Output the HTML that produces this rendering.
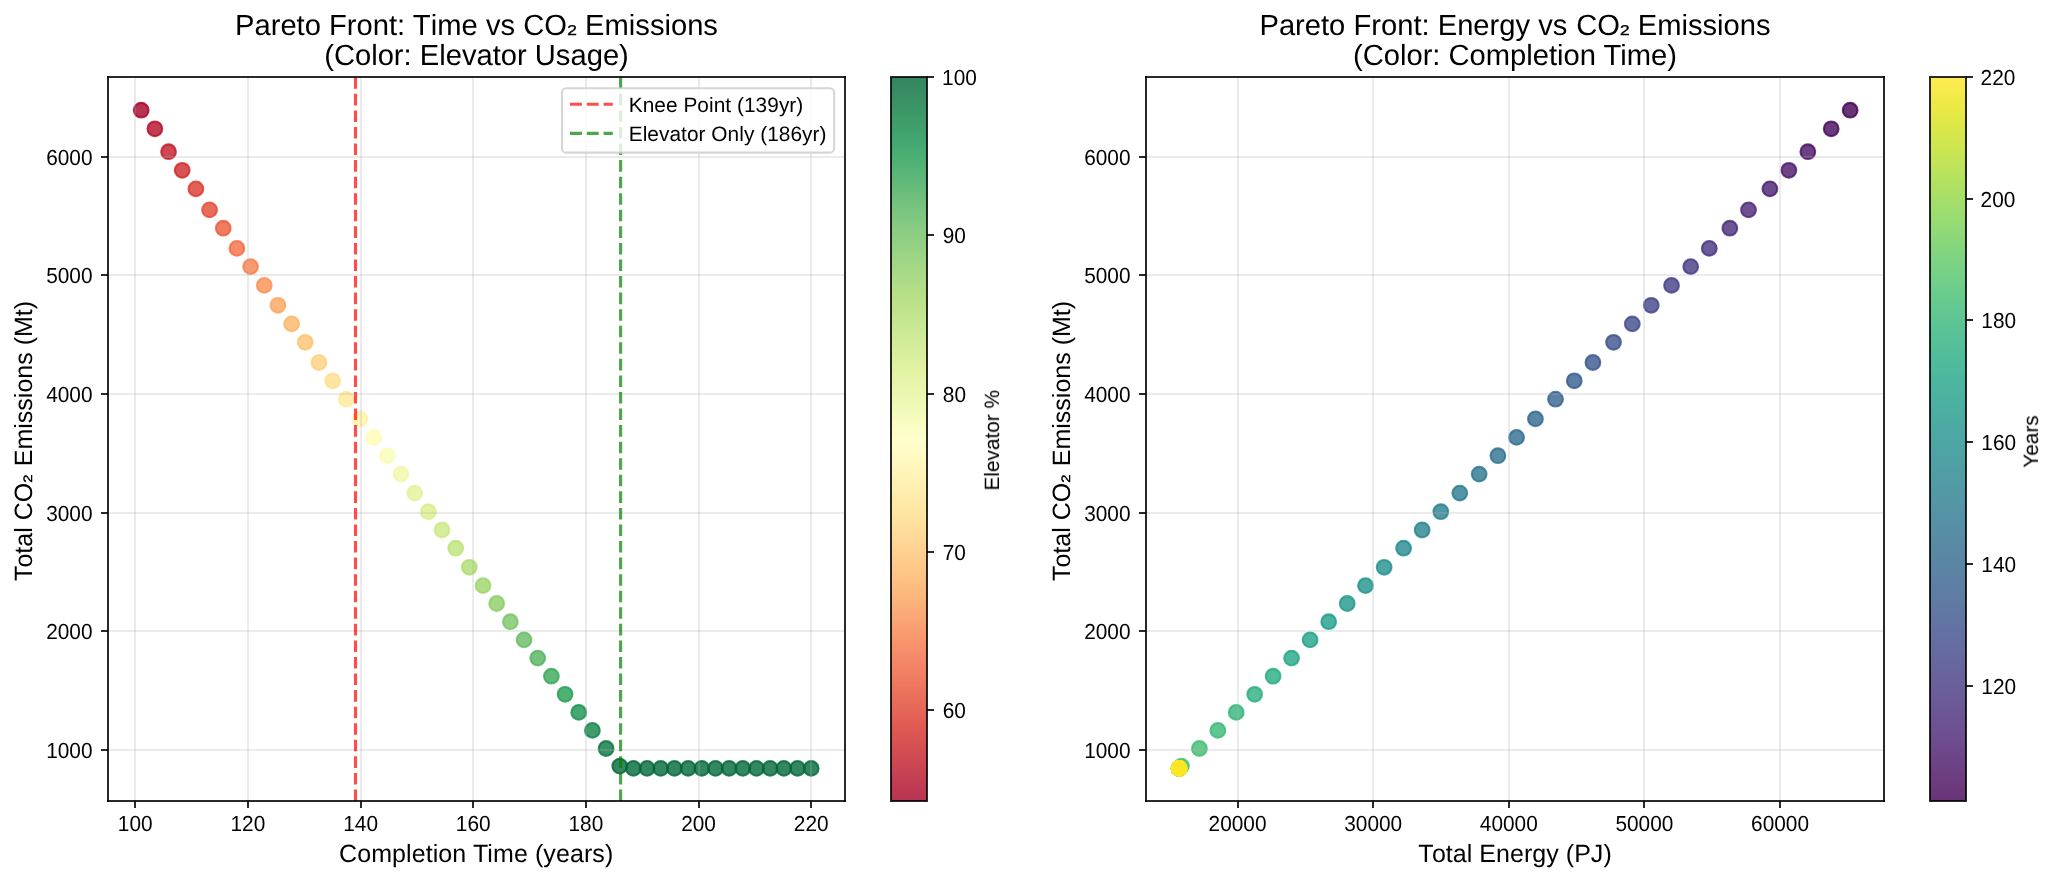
<!DOCTYPE html>
<html><head><meta charset="utf-8"><title>Pareto Front</title>
<style>html,body{margin:0;padding:0;background:#fff}body{width:2057px;height:881px;overflow:hidden}svg text{font-family:"Liberation Sans",sans-serif;text-rendering:geometricPrecision}</style></head>
<body>
<svg width="2057" height="881" viewBox="0 0 2057 881" style="display:block">
<rect width="2057" height="881" fill="#fff"/>
<defs><filter id="tf" x="0" y="0" width="2057" height="881" filterUnits="userSpaceOnUse" color-interpolation-filters="sRGB"><feOffset dx="0" dy="0"/></filter></defs>
<g fill-opacity=".8" stroke-opacity=".8" stroke-width="2.083">
<circle cx="141.20" cy="110.20" r="7.365" fill="#a50026" stroke="#a50026"/>
<circle cx="154.87" cy="128.80" r="7.365" fill="#b30d26" stroke="#b30d26"/>
<circle cx="168.55" cy="151.70" r="7.365" fill="#c01a27" stroke="#c01a27"/>
<circle cx="182.22" cy="170.30" r="7.365" fill="#ce2827" stroke="#ce2827"/>
<circle cx="195.89" cy="188.90" r="7.365" fill="#db382b" stroke="#db382b"/>
<circle cx="209.56" cy="209.90" r="7.365" fill="#e34933" stroke="#e34933"/>
<circle cx="223.24" cy="228.20" r="7.365" fill="#eb5a3a" stroke="#eb5a3a"/>
<circle cx="236.91" cy="248.40" r="7.365" fill="#f46d43" stroke="#f46d43"/>
<circle cx="250.58" cy="266.60" r="7.365" fill="#f67f4b" stroke="#f67f4b"/>
<circle cx="264.26" cy="285.40" r="7.365" fill="#f99153" stroke="#f99153"/>
<circle cx="277.93" cy="305.30" r="7.365" fill="#fca55d" stroke="#fca55d"/>
<circle cx="291.60" cy="323.90" r="7.365" fill="#fdb567" stroke="#fdb567"/>
<circle cx="305.28" cy="342.30" r="7.365" fill="#fdc372" stroke="#fdc372"/>
<circle cx="318.95" cy="362.50" r="7.365" fill="#fed07e" stroke="#fed07e"/>
<circle cx="332.62" cy="380.80" r="7.365" fill="#fee08b" stroke="#fee08b"/>
<circle cx="346.29" cy="399.20" r="7.365" fill="#fee999" stroke="#fee999"/>
<circle cx="359.97" cy="418.90" r="7.365" fill="#fff1a8" stroke="#fff1a8"/>
<circle cx="373.64" cy="437.40" r="7.365" fill="#fffbb8" stroke="#fffbb8"/>
<circle cx="387.31" cy="455.70" r="7.365" fill="#fafdb8" stroke="#fafdb8"/>
<circle cx="400.99" cy="474.10" r="7.365" fill="#eff8aa" stroke="#eff8aa"/>
<circle cx="414.66" cy="493.10" r="7.365" fill="#e3f399" stroke="#e3f399"/>
<circle cx="428.33" cy="511.70" r="7.365" fill="#d9ef8b" stroke="#d9ef8b"/>
<circle cx="442.01" cy="530.00" r="7.365" fill="#cbe982" stroke="#cbe982"/>
<circle cx="455.68" cy="548.20" r="7.365" fill="#bde379" stroke="#bde379"/>
<circle cx="469.35" cy="567.30" r="7.365" fill="#addc6f" stroke="#addc6f"/>
<circle cx="483.02" cy="585.60" r="7.365" fill="#9dd569" stroke="#9dd569"/>
<circle cx="496.70" cy="603.50" r="7.365" fill="#8ccd67" stroke="#8ccd67"/>
<circle cx="510.37" cy="621.70" r="7.365" fill="#78c565" stroke="#78c565"/>
<circle cx="524.04" cy="639.90" r="7.365" fill="#66bd63" stroke="#66bd63"/>
<circle cx="537.72" cy="658.10" r="7.365" fill="#51b35e" stroke="#51b35e"/>
<circle cx="551.39" cy="676.20" r="7.365" fill="#39a758" stroke="#39a758"/>
<circle cx="565.06" cy="694.30" r="7.365" fill="#249d53" stroke="#249d53"/>
<circle cx="578.74" cy="712.40" r="7.365" fill="#16914d" stroke="#16914d"/>
<circle cx="592.41" cy="730.40" r="7.365" fill="#0f8446" stroke="#0f8446"/>
<circle cx="606.08" cy="748.50" r="7.365" fill="#07753e" stroke="#07753e"/>
<circle cx="619.75" cy="766.10" r="7.365" fill="#006837" stroke="#006837"/>
<circle cx="633.43" cy="768.40" r="7.365" fill="#006837" stroke="#006837"/>
<circle cx="647.10" cy="768.40" r="7.365" fill="#006837" stroke="#006837"/>
<circle cx="660.77" cy="768.40" r="7.365" fill="#006837" stroke="#006837"/>
<circle cx="674.45" cy="768.40" r="7.365" fill="#006837" stroke="#006837"/>
<circle cx="688.12" cy="768.40" r="7.365" fill="#006837" stroke="#006837"/>
<circle cx="701.79" cy="768.40" r="7.365" fill="#006837" stroke="#006837"/>
<circle cx="715.47" cy="768.40" r="7.365" fill="#006837" stroke="#006837"/>
<circle cx="729.14" cy="768.40" r="7.365" fill="#006837" stroke="#006837"/>
<circle cx="742.81" cy="768.40" r="7.365" fill="#006837" stroke="#006837"/>
<circle cx="756.48" cy="768.40" r="7.365" fill="#006837" stroke="#006837"/>
<circle cx="770.16" cy="768.40" r="7.365" fill="#006837" stroke="#006837"/>
<circle cx="783.83" cy="768.40" r="7.365" fill="#006837" stroke="#006837"/>
<circle cx="797.50" cy="768.40" r="7.365" fill="#006837" stroke="#006837"/>
<circle cx="811.18" cy="768.40" r="7.365" fill="#006837" stroke="#006837"/>
</g>
<rect x="134" y="77" width="2" height="724" fill="#b0b0b0" fill-opacity=".25"/>
<rect x="247" y="77" width="2" height="724" fill="#b0b0b0" fill-opacity=".25"/>
<rect x="360" y="77" width="2" height="724" fill="#b0b0b0" fill-opacity=".25"/>
<rect x="472" y="77" width="2" height="724" fill="#b0b0b0" fill-opacity=".25"/>
<rect x="585" y="77" width="2" height="724" fill="#b0b0b0" fill-opacity=".25"/>
<rect x="698" y="77" width="2" height="724" fill="#b0b0b0" fill-opacity=".25"/>
<rect x="810" y="77" width="2" height="724" fill="#b0b0b0" fill-opacity=".25"/>
<rect x="108" y="749" width="737" height="2" fill="#b0b0b0" fill-opacity=".25"/>
<rect x="108" y="630" width="737" height="2" fill="#b0b0b0" fill-opacity=".25"/>
<rect x="108" y="512" width="737" height="2" fill="#b0b0b0" fill-opacity=".25"/>
<rect x="108" y="393" width="737" height="2" fill="#b0b0b0" fill-opacity=".25"/>
<rect x="108" y="274" width="737" height="2" fill="#b0b0b0" fill-opacity=".25"/>
<rect x="108" y="156" width="737" height="2" fill="#b0b0b0" fill-opacity=".25"/>
<g stroke-width="3.125" stroke-opacity=".7" stroke-dasharray="11.5625 5" fill="none">
<line x1="355.5" y1="801" x2="355.5" y2="77" stroke="#ff0000"/>
<line x1="620.6" y1="801" x2="620.6" y2="77" stroke="#008000"/>
</g>
<rect x="107" y="76" width="2" height="726" fill="#000" fill-opacity=".835"/>
<rect x="844" y="76" width="2" height="726" fill="#000" fill-opacity=".835"/>
<rect x="107" y="76" width="739" height="2" fill="#000" fill-opacity=".835"/>
<rect x="107" y="800" width="739" height="2" fill="#000" fill-opacity=".835"/>
<rect x="134" y="801" width="2" height="7" fill="#000" fill-opacity=".835"/>
<rect x="247" y="801" width="2" height="7" fill="#000" fill-opacity=".835"/>
<rect x="360" y="801" width="2" height="7" fill="#000" fill-opacity=".835"/>
<rect x="472" y="801" width="2" height="7" fill="#000" fill-opacity=".835"/>
<rect x="585" y="801" width="2" height="7" fill="#000" fill-opacity=".835"/>
<rect x="698" y="801" width="2" height="7" fill="#000" fill-opacity=".835"/>
<rect x="810" y="801" width="2" height="7" fill="#000" fill-opacity=".835"/>
<rect x="101" y="749" width="7" height="2" fill="#000" fill-opacity=".835"/>
<rect x="101" y="630" width="7" height="2" fill="#000" fill-opacity=".835"/>
<rect x="101" y="512" width="7" height="2" fill="#000" fill-opacity=".835"/>
<rect x="101" y="393" width="7" height="2" fill="#000" fill-opacity=".835"/>
<rect x="101" y="274" width="7" height="2" fill="#000" fill-opacity=".835"/>
<rect x="101" y="156" width="7" height="2" fill="#000" fill-opacity=".835"/>
<g font-size="20.83px" fill="#000" filter="url(#tf)">
<text transform="translate(135.2,830.9) scale(1,1.045)" text-anchor="middle">100</text>
<text transform="translate(247.9,830.9) scale(1,1.045)" text-anchor="middle">120</text>
<text transform="translate(360.6,830.9) scale(1,1.045)" text-anchor="middle">140</text>
<text transform="translate(473.2,830.9) scale(1,1.045)" text-anchor="middle">160</text>
<text transform="translate(585.9,830.9) scale(1,1.045)" text-anchor="middle">180</text>
<text transform="translate(698.5,830.9) scale(1,1.045)" text-anchor="middle">200</text>
<text transform="translate(811.2,830.9) scale(1,1.045)" text-anchor="middle">220</text>
<text transform="translate(92.55,757.9) scale(1,1.045)" text-anchor="end">1000</text>
<text transform="translate(92.55,638.9) scale(1,1.045)" text-anchor="end">2000</text>
<text transform="translate(92.55,520.9) scale(1,1.045)" text-anchor="end">3000</text>
<text transform="translate(92.55,401.9) scale(1,1.045)" text-anchor="end">4000</text>
<text transform="translate(92.55,282.9) scale(1,1.045)" text-anchor="end">5000</text>
<text transform="translate(92.55,164.9) scale(1,1.045)" text-anchor="end">6000</text>
</g>
<g fill-opacity=".8" stroke-opacity=".8" stroke-width="2.083">
<circle cx="1850.15" cy="110.20" r="7.365" fill="#440154" stroke="#440154"/>
<circle cx="1831.19" cy="128.80" r="7.365" fill="#46085c" stroke="#46085c"/>
<circle cx="1807.84" cy="151.70" r="7.365" fill="#471063" stroke="#471063"/>
<circle cx="1788.88" cy="170.30" r="7.365" fill="#481769" stroke="#481769"/>
<circle cx="1769.92" cy="188.90" r="7.365" fill="#481d6f" stroke="#481d6f"/>
<circle cx="1748.51" cy="209.90" r="7.365" fill="#482576" stroke="#482576"/>
<circle cx="1729.85" cy="228.20" r="7.365" fill="#472c7a" stroke="#472c7a"/>
<circle cx="1709.26" cy="248.40" r="7.365" fill="#46327e" stroke="#46327e"/>
<circle cx="1690.70" cy="266.60" r="7.365" fill="#453882" stroke="#453882"/>
<circle cx="1671.53" cy="285.40" r="7.365" fill="#423f85" stroke="#423f85"/>
<circle cx="1651.25" cy="305.30" r="7.365" fill="#404588" stroke="#404588"/>
<circle cx="1632.28" cy="323.90" r="7.365" fill="#3e4a89" stroke="#3e4a89"/>
<circle cx="1613.53" cy="342.30" r="7.365" fill="#3c508b" stroke="#3c508b"/>
<circle cx="1592.93" cy="362.50" r="7.365" fill="#39558c" stroke="#39558c"/>
<circle cx="1574.27" cy="380.80" r="7.365" fill="#365c8d" stroke="#365c8d"/>
<circle cx="1555.52" cy="399.20" r="7.365" fill="#34618d" stroke="#34618d"/>
<circle cx="1535.43" cy="418.90" r="7.365" fill="#31668e" stroke="#31668e"/>
<circle cx="1516.57" cy="437.40" r="7.365" fill="#2f6b8e" stroke="#2f6b8e"/>
<circle cx="1497.91" cy="455.70" r="7.365" fill="#2d718e" stroke="#2d718e"/>
<circle cx="1479.16" cy="474.10" r="7.365" fill="#2b758e" stroke="#2b758e"/>
<circle cx="1459.78" cy="493.10" r="7.365" fill="#297a8e" stroke="#297a8e"/>
<circle cx="1440.82" cy="511.70" r="7.365" fill="#277f8e" stroke="#277f8e"/>
<circle cx="1422.16" cy="530.00" r="7.365" fill="#25838e" stroke="#25838e"/>
<circle cx="1403.61" cy="548.20" r="7.365" fill="#23898e" stroke="#23898e"/>
<circle cx="1384.14" cy="567.30" r="7.365" fill="#218e8d" stroke="#218e8d"/>
<circle cx="1365.48" cy="585.60" r="7.365" fill="#20928c" stroke="#20928c"/>
<circle cx="1347.23" cy="603.50" r="7.365" fill="#1f978b" stroke="#1f978b"/>
<circle cx="1328.68" cy="621.70" r="7.365" fill="#1e9d89" stroke="#1e9d89"/>
<circle cx="1310.12" cy="639.90" r="7.365" fill="#1fa187" stroke="#1fa187"/>
<circle cx="1291.57" cy="658.10" r="7.365" fill="#21a685" stroke="#21a685"/>
<circle cx="1273.11" cy="676.20" r="7.365" fill="#25ab82" stroke="#25ab82"/>
<circle cx="1254.66" cy="694.30" r="7.365" fill="#29af7f" stroke="#29af7f"/>
<circle cx="1236.21" cy="712.40" r="7.365" fill="#31b57b" stroke="#31b57b"/>
<circle cx="1217.86" cy="730.40" r="7.365" fill="#38b977" stroke="#38b977"/>
<circle cx="1199.40" cy="748.50" r="7.365" fill="#40bd72" stroke="#40bd72"/>
<circle cx="1181.46" cy="766.10" r="7.365" fill="#4ac16d" stroke="#4ac16d"/>
<circle cx="1179.12" cy="768.40" r="7.365" fill="#56c667" stroke="#56c667"/>
<circle cx="1179.12" cy="768.40" r="7.365" fill="#60ca60" stroke="#60ca60"/>
<circle cx="1179.12" cy="768.40" r="7.365" fill="#6ccd5a" stroke="#6ccd5a"/>
<circle cx="1179.12" cy="768.40" r="7.365" fill="#77d153" stroke="#77d153"/>
<circle cx="1179.12" cy="768.40" r="7.365" fill="#84d44b" stroke="#84d44b"/>
<circle cx="1179.12" cy="768.40" r="7.365" fill="#93d741" stroke="#93d741"/>
<circle cx="1179.12" cy="768.40" r="7.365" fill="#a0da39" stroke="#a0da39"/>
<circle cx="1179.12" cy="768.40" r="7.365" fill="#addc30" stroke="#addc30"/>
<circle cx="1179.12" cy="768.40" r="7.365" fill="#bade28" stroke="#bade28"/>
<circle cx="1179.12" cy="768.40" r="7.365" fill="#cae11f" stroke="#cae11f"/>
<circle cx="1179.12" cy="768.40" r="7.365" fill="#d8e219" stroke="#d8e219"/>
<circle cx="1179.12" cy="768.40" r="7.365" fill="#e5e419" stroke="#e5e419"/>
<circle cx="1179.12" cy="768.40" r="7.365" fill="#f1e51d" stroke="#f1e51d"/>
<circle cx="1179.12" cy="768.40" r="7.365" fill="#fde725" stroke="#fde725"/>
</g>
<rect x="1237" y="77" width="2" height="724" fill="#b0b0b0" fill-opacity=".25"/>
<rect x="1372" y="77" width="2" height="724" fill="#b0b0b0" fill-opacity=".25"/>
<rect x="1508" y="77" width="2" height="724" fill="#b0b0b0" fill-opacity=".25"/>
<rect x="1643" y="77" width="2" height="724" fill="#b0b0b0" fill-opacity=".25"/>
<rect x="1779" y="77" width="2" height="724" fill="#b0b0b0" fill-opacity=".25"/>
<rect x="1146" y="749" width="738" height="2" fill="#b0b0b0" fill-opacity=".25"/>
<rect x="1146" y="630" width="738" height="2" fill="#b0b0b0" fill-opacity=".25"/>
<rect x="1146" y="512" width="738" height="2" fill="#b0b0b0" fill-opacity=".25"/>
<rect x="1146" y="393" width="738" height="2" fill="#b0b0b0" fill-opacity=".25"/>
<rect x="1146" y="274" width="738" height="2" fill="#b0b0b0" fill-opacity=".25"/>
<rect x="1146" y="156" width="738" height="2" fill="#b0b0b0" fill-opacity=".25"/>
<rect x="1145" y="76" width="2" height="726" fill="#000" fill-opacity=".835"/>
<rect x="1883" y="76" width="2" height="726" fill="#000" fill-opacity=".835"/>
<rect x="1145" y="76" width="740" height="2" fill="#000" fill-opacity=".835"/>
<rect x="1145" y="800" width="740" height="2" fill="#000" fill-opacity=".835"/>
<rect x="1237" y="801" width="2" height="7" fill="#000" fill-opacity=".835"/>
<rect x="1372" y="801" width="2" height="7" fill="#000" fill-opacity=".835"/>
<rect x="1508" y="801" width="2" height="7" fill="#000" fill-opacity=".835"/>
<rect x="1643" y="801" width="2" height="7" fill="#000" fill-opacity=".835"/>
<rect x="1779" y="801" width="2" height="7" fill="#000" fill-opacity=".835"/>
<rect x="1139" y="749" width="7" height="2" fill="#000" fill-opacity=".835"/>
<rect x="1139" y="630" width="7" height="2" fill="#000" fill-opacity=".835"/>
<rect x="1139" y="512" width="7" height="2" fill="#000" fill-opacity=".835"/>
<rect x="1139" y="393" width="7" height="2" fill="#000" fill-opacity=".835"/>
<rect x="1139" y="274" width="7" height="2" fill="#000" fill-opacity=".835"/>
<rect x="1139" y="156" width="7" height="2" fill="#000" fill-opacity=".835"/>
<g font-size="20.83px" fill="#000" filter="url(#tf)">
<text transform="translate(1237.5,830.9) scale(1,1.045)" text-anchor="middle">20000</text>
<text transform="translate(1373.2,830.9) scale(1,1.045)" text-anchor="middle">30000</text>
<text transform="translate(1508.8,830.9) scale(1,1.045)" text-anchor="middle">40000</text>
<text transform="translate(1644.4,830.9) scale(1,1.045)" text-anchor="middle">50000</text>
<text transform="translate(1780.0,830.9) scale(1,1.045)" text-anchor="middle">60000</text>
<text transform="translate(1130.55,757.9) scale(1,1.045)" text-anchor="end">1000</text>
<text transform="translate(1130.55,638.9) scale(1,1.045)" text-anchor="end">2000</text>
<text transform="translate(1130.55,520.9) scale(1,1.045)" text-anchor="end">3000</text>
<text transform="translate(1130.55,401.9) scale(1,1.045)" text-anchor="end">4000</text>
<text transform="translate(1130.55,282.9) scale(1,1.045)" text-anchor="end">5000</text>
<text transform="translate(1130.55,164.9) scale(1,1.045)" text-anchor="end">6000</text>
</g>
<rect x="562.0" y="88.2" width="272.10" height="64.40" rx="4.17" fill="#fff" fill-opacity=".8" stroke="#cccccc" stroke-opacity=".8" stroke-width="2.083"/>
<g stroke-width="3.125" stroke-opacity=".7" stroke-dasharray="11.9 4.9" fill="none">
<line x1="570.0" y1="104.3" x2="612.8" y2="104.3" stroke="#ff0000"/>
<line x1="570.0" y1="133.4" x2="612.8" y2="133.4" stroke="#008000"/>
</g>
<g font-size="20.83px" fill="#000" filter="url(#tf)">
<text x="628.7" y="111.7" letter-spacing=".055">Knee Point (139yr)</text>
<text x="628.7" y="140.7" letter-spacing=".05">Elevator Only (186yr)</text>
</g>
<g font-size="29.17px" fill="#000" text-anchor="middle" filter="url(#tf)">
<text x="476.5" y="35">Pareto Front: T<tspan dx="1.3">i</tspan>me vs CO<tspan dx="0.3" font-size="14.20px" stroke="#000" stroke-width=".4" textLength="9.59" lengthAdjust="spacingAndGlyphs">2</tspan><tspan dx="0.2"> </tspan>Emissions</text>
<text x="476.5" y="64.8">(Color: Elevator Usage)</text>
<text x="1515" y="35">Pareto Front: Energy vs<tspan dx="0.8"> </tspan>CO<tspan font-size="14.20px" stroke="#000" stroke-width=".4" textLength="9.59" lengthAdjust="spacingAndGlyphs">2</tspan> Emissions</text>
<text x="1515" y="64.8">(Color: Completion Time)</text>
</g>
<g font-size="25px" fill="#000" text-anchor="middle" filter="url(#tf)">
<text x="476.2" y="862.2" letter-spacing=".09">Completion Time (years)</text>
<text x="1515" y="862.2" letter-spacing=".04">T<tspan dx="1.1">o</tspan>tal Energy (PJ)</text>
<text transform="translate(32.0,441) rotate(-90)">T<tspan dx="1.0">o</tspan>tal CO<tspan font-size="12.17px" stroke="#000" stroke-width=".4" textLength="8.22" lengthAdjust="spacingAndGlyphs">2</tspan><tspan dx="1.4"> </tspan>Emissions (Mt)</text>
<text transform="translate(1070.0,441) rotate(-90)">T<tspan dx="1.0">o</tspan>tal CO<tspan font-size="12.17px" stroke="#000" stroke-width=".4" textLength="8.22" lengthAdjust="spacingAndGlyphs">2</tspan><tspan dx="1.4"> </tspan>Emissions (Mt)</text>
</g>
<defs><linearGradient id="g1" x1="0" y1="0" x2="0" y2="1"><stop offset="0.0000" stop-color="#33865f"/><stop offset="0.0156" stop-color="#358b61"/><stop offset="0.0312" stop-color="#399164"/><stop offset="0.0469" stop-color="#3c9768"/><stop offset="0.0625" stop-color="#3f9d6b"/><stop offset="0.0781" stop-color="#42a36e"/><stop offset="0.0938" stop-color="#46a971"/><stop offset="0.1094" stop-color="#4bae74"/><stop offset="0.1250" stop-color="#55b376"/><stop offset="0.1406" stop-color="#5eb879"/><stop offset="0.1562" stop-color="#68bc7b"/><stop offset="0.1719" stop-color="#72c17d"/><stop offset="0.1875" stop-color="#7bc680"/><stop offset="0.2031" stop-color="#85ca82"/><stop offset="0.2188" stop-color="#8dce83"/><stop offset="0.2344" stop-color="#95d184"/><stop offset="0.2500" stop-color="#9dd585"/><stop offset="0.2656" stop-color="#a5d886"/><stop offset="0.2812" stop-color="#addc87"/><stop offset="0.2969" stop-color="#b5df87"/><stop offset="0.3125" stop-color="#bce28a"/><stop offset="0.3281" stop-color="#c2e58f"/><stop offset="0.3438" stop-color="#c9e893"/><stop offset="0.3594" stop-color="#cfeb97"/><stop offset="0.3750" stop-color="#d5ed9b"/><stop offset="0.3906" stop-color="#dcf09f"/><stop offset="0.4062" stop-color="#e2f3a4"/><stop offset="0.4219" stop-color="#e7f5aa"/><stop offset="0.4375" stop-color="#ebf7b1"/><stop offset="0.4531" stop-color="#f0f9b7"/><stop offset="0.4688" stop-color="#f5fbbe"/><stop offset="0.4844" stop-color="#fafdc4"/><stop offset="0.5000" stop-color="#feffcb"/><stop offset="0.5156" stop-color="#fffcc6"/><stop offset="0.5312" stop-color="#fff8c0"/><stop offset="0.5469" stop-color="#fff4b9"/><stop offset="0.5625" stop-color="#fff0b3"/><stop offset="0.5781" stop-color="#feecac"/><stop offset="0.5938" stop-color="#fee8a5"/><stop offset="0.6094" stop-color="#fee3a0"/><stop offset="0.6250" stop-color="#fedd9a"/><stop offset="0.6406" stop-color="#fed795"/><stop offset="0.6562" stop-color="#fed090"/><stop offset="0.6719" stop-color="#feca8a"/><stop offset="0.6875" stop-color="#fec485"/><stop offset="0.7031" stop-color="#fdbd80"/><stop offset="0.7188" stop-color="#fcb57c"/><stop offset="0.7344" stop-color="#fbad79"/><stop offset="0.7500" stop-color="#faa575"/><stop offset="0.7656" stop-color="#f99d71"/><stop offset="0.7812" stop-color="#f8946d"/><stop offset="0.7969" stop-color="#f68c6a"/><stop offset="0.8125" stop-color="#f38466"/><stop offset="0.8281" stop-color="#f07d62"/><stop offset="0.8438" stop-color="#ec755f"/><stop offset="0.8594" stop-color="#e96d5b"/><stop offset="0.8750" stop-color="#e56658"/><stop offset="0.8906" stop-color="#e15e54"/><stop offset="0.9062" stop-color="#dd5752"/><stop offset="0.9219" stop-color="#d65152"/><stop offset="0.9375" stop-color="#d04b52"/><stop offset="0.9531" stop-color="#ca4552"/><stop offset="0.9688" stop-color="#c43f52"/><stop offset="0.9844" stop-color="#bd3952"/><stop offset="1.0000" stop-color="#b73351"/></linearGradient></defs>
<rect x="891" y="77" width="36" height="724" fill="url(#g1)"/>
<rect x="890" y="78" width="2" height="722" fill="#000" fill-opacity=".835"/>
<rect x="926" y="78" width="2" height="722" fill="#000" fill-opacity=".835"/>
<rect x="890" y="76" width="38" height="2" fill="#000" fill-opacity=".835"/>
<rect x="890" y="800" width="38" height="2" fill="#000" fill-opacity=".835"/>
<g font-size="20.83px" fill="#000" filter="url(#tf)">
<rect x="927" y="709" width="7" height="2" fill="#000" fill-opacity=".835"/>
<text transform="translate(942.64,718.0) scale(1,1.045)">60</text>
<rect x="927" y="551" width="7" height="2" fill="#000" fill-opacity=".835"/>
<text transform="translate(942.63,560.0) scale(1,1.045)">70</text>
<rect x="927" y="393" width="7" height="2" fill="#000" fill-opacity=".835"/>
<text transform="translate(942.80,402.0) scale(1,1.045)">80</text>
<rect x="927" y="234" width="7" height="2" fill="#000" fill-opacity=".835"/>
<text transform="translate(942.72,243.0) scale(1,1.045)">90</text>
<rect x="927" y="76" width="7" height="2" fill="#000" fill-opacity=".835"/>
<text transform="translate(942.11,85.0) scale(1,1.045)">100</text>
<text transform="translate(999.0,440.3) rotate(-90)" text-anchor="middle">Elevator %</text>
</g>
<defs><linearGradient id="g2" x1="0" y1="0" x2="0" y2="1"><stop offset="0.0000" stop-color="#feec50"/><stop offset="0.0156" stop-color="#f8eb4c"/><stop offset="0.0312" stop-color="#f0ea48"/><stop offset="0.0469" stop-color="#e8e946"/><stop offset="0.0625" stop-color="#dfe847"/><stop offset="0.0781" stop-color="#d7e74a"/><stop offset="0.0938" stop-color="#cfe64f"/><stop offset="0.1094" stop-color="#c6e554"/><stop offset="0.1250" stop-color="#bde35a"/><stop offset="0.1406" stop-color="#b5e25f"/><stop offset="0.1562" stop-color="#ade065"/><stop offset="0.1719" stop-color="#a4de6a"/><stop offset="0.1875" stop-color="#9cdd6f"/><stop offset="0.2031" stop-color="#94db74"/><stop offset="0.2188" stop-color="#8dd879"/><stop offset="0.2344" stop-color="#85d67d"/><stop offset="0.2500" stop-color="#7ed481"/><stop offset="0.2656" stop-color="#78d285"/><stop offset="0.2812" stop-color="#71cf89"/><stop offset="0.2969" stop-color="#6bcc8c"/><stop offset="0.3125" stop-color="#65ca8f"/><stop offset="0.3281" stop-color="#60c792"/><stop offset="0.3438" stop-color="#5bc495"/><stop offset="0.3594" stop-color="#57c197"/><stop offset="0.3750" stop-color="#53be99"/><stop offset="0.3906" stop-color="#50bc9b"/><stop offset="0.4062" stop-color="#4eb99d"/><stop offset="0.4219" stop-color="#4cb69f"/><stop offset="0.4375" stop-color="#4cb3a0"/><stop offset="0.4531" stop-color="#4bb0a1"/><stop offset="0.4688" stop-color="#4cada2"/><stop offset="0.4844" stop-color="#4caaa3"/><stop offset="0.5000" stop-color="#4da7a3"/><stop offset="0.5156" stop-color="#4ea4a4"/><stop offset="0.5312" stop-color="#4fa1a4"/><stop offset="0.5469" stop-color="#509ea4"/><stop offset="0.5625" stop-color="#519ba5"/><stop offset="0.5781" stop-color="#5398a5"/><stop offset="0.5938" stop-color="#5495a5"/><stop offset="0.6094" stop-color="#5592a5"/><stop offset="0.6250" stop-color="#568fa5"/><stop offset="0.6406" stop-color="#588ba5"/><stop offset="0.6562" stop-color="#5988a5"/><stop offset="0.6719" stop-color="#5a85a4"/><stop offset="0.6875" stop-color="#5c82a4"/><stop offset="0.7031" stop-color="#5d7fa4"/><stop offset="0.7188" stop-color="#5f7ca3"/><stop offset="0.7344" stop-color="#6078a3"/><stop offset="0.7500" stop-color="#6275a2"/><stop offset="0.7656" stop-color="#6371a2"/><stop offset="0.7812" stop-color="#656ea1"/><stop offset="0.7969" stop-color="#666a9f"/><stop offset="0.8125" stop-color="#68669e"/><stop offset="0.8281" stop-color="#69639c"/><stop offset="0.8438" stop-color="#6a5f9a"/><stop offset="0.8594" stop-color="#6b5b98"/><stop offset="0.8750" stop-color="#6c5796"/><stop offset="0.8906" stop-color="#6c5393"/><stop offset="0.9062" stop-color="#6d4f8f"/><stop offset="0.9219" stop-color="#6d4b8c"/><stop offset="0.9375" stop-color="#6d4688"/><stop offset="0.9531" stop-color="#6c4284"/><stop offset="0.9688" stop-color="#6c3d80"/><stop offset="0.9844" stop-color="#6b387b"/><stop offset="1.0000" stop-color="#693476"/></linearGradient></defs>
<rect x="1930" y="77" width="36" height="724" fill="url(#g2)"/>
<rect x="1929" y="78" width="2" height="722" fill="#000" fill-opacity=".835"/>
<rect x="1965" y="78" width="2" height="722" fill="#000" fill-opacity=".835"/>
<rect x="1929" y="76" width="38" height="2" fill="#000" fill-opacity=".835"/>
<rect x="1929" y="800" width="38" height="2" fill="#000" fill-opacity=".835"/>
<g font-size="20.83px" fill="#000" filter="url(#tf)">
<rect x="1966" y="685" width="7" height="2" fill="#000" fill-opacity=".835"/>
<text transform="translate(1981.31,694.0) scale(1,1.045)">120</text>
<rect x="1966" y="563" width="7" height="2" fill="#000" fill-opacity=".835"/>
<text transform="translate(1981.31,572.0) scale(1,1.045)">140</text>
<rect x="1966" y="441" width="7" height="2" fill="#000" fill-opacity=".835"/>
<text transform="translate(1981.31,450.0) scale(1,1.045)">160</text>
<rect x="1966" y="319" width="7" height="2" fill="#000" fill-opacity=".835"/>
<text transform="translate(1981.31,328.0) scale(1,1.045)">180</text>
<rect x="1966" y="198" width="7" height="2" fill="#000" fill-opacity=".835"/>
<text transform="translate(1980.55,207.0) scale(1,1.045)">200</text>
<rect x="1966" y="76" width="7" height="2" fill="#000" fill-opacity=".835"/>
<text transform="translate(1980.55,85.0) scale(1,1.045)">220</text>
<text transform="translate(2037.9,441.5) rotate(-90)" text-anchor="middle">Years</text>
</g>
</svg>
</body></html>
